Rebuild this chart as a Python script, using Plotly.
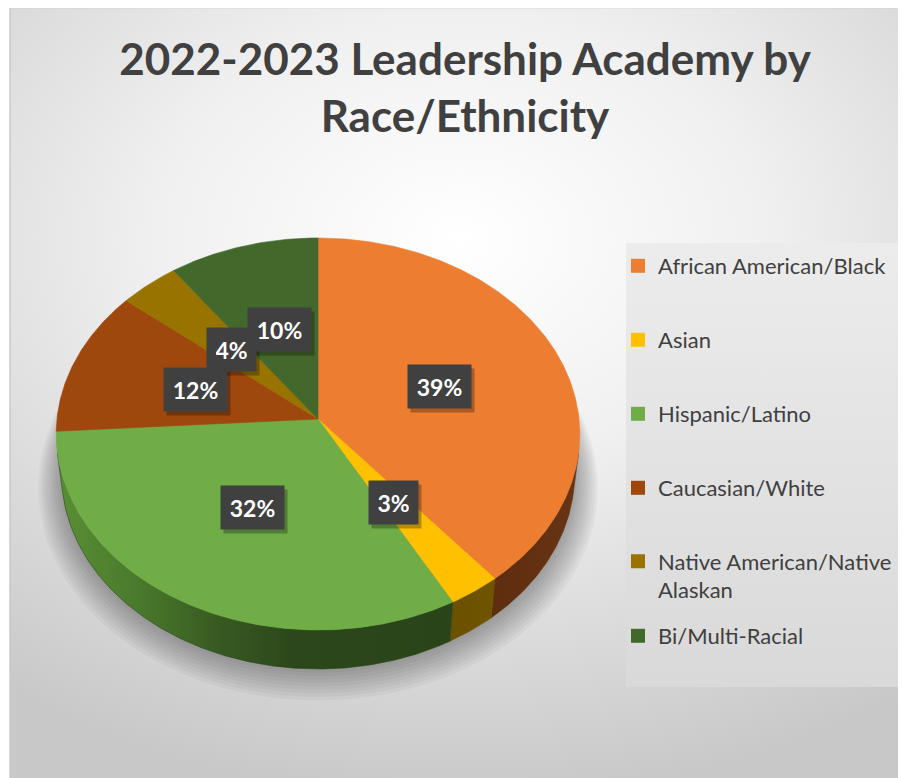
import numpy as np
import plotly.graph_objects as go

# ---------------- data ----------------
categories = ["African American/Black", "Asian", "Hispanic/Latino",
              "Caucasian/White", "Native American/Native Alaskan", "Bi/Multi-Racial"]
legend_labels = ["African American/Black", "Asian", "Hispanic/Latino",
                 "Caucasian/White", "Native American/Native<br>Alaskan", "Bi/Multi-Racial"]
percent_values = [39, 3, 32, 12, 4, 10]
title_text = "2022-2023 Leadership Academy by<br>Race/Ethnicity"

# ---------------- style ----------------
top_colors = ["#ED7D31", "#FFC000", "#70AD47", "#9E480E", "#997300", "#43682B"]
side_scales = [
    [[0, "#5e2d0f"], [1, "#683413"]],
    [[0, "#6a5000"], [1, "#705500"]],
    [[0, "#5a8f35"], [0.2, "#4a7a2c"], [0.4, "#385b21"], [0.6, "#2c471b"], [1, "#2a441a"]],
    [[0, "#6a300a"], [1, "#5a2808"]],
    [[0, "#6a5000"], [1, "#5e4600"]],
    [[0, "#30491e"], [1, "#2a411a"]],
]
OX, OY = 8, 8                 # page body margin
W, H_PX = 898, 770            # figure size
FONT = "Lato"
TXT = "#404040"


def px_x(p):
    return (p - OX) / W


def px_y(p):
    return 1 - (p - OY) / H_PX


# 3-D perspective pie geometry (screen pixel space of the axes)
CX, CY = 318.0, 419.0        # apex of the pie
DIST = 8.70                  # camera distance (in radii)
COS_T, SIN_T = 0.6654, 0.7465
FOC = 2271.0
THICK = 0.2366


def proj(theta_deg, r=1.0, h=0.0):
    t = np.radians(theta_deg)
    X = r * np.sin(t)
    Yp = r * np.cos(t)
    depth = DIST + Yp * COS_T + h * SIN_T
    v = Yp * SIN_T - h * COS_T
    return CX + FOC * X / depth, CY - FOC * v / depth


vals = np.array(percent_values, dtype=float)
cum = np.concatenate([[0], np.cumsum(vals)]) / vals.sum() * 360.0
th_vis = np.degrees(np.arccos(-1.0 / (COS_T * DIST)))
vis_lo, vis_hi = th_vis, 360.0 - th_vis

fig = go.Figure()

# background with radial gradient
fig.add_trace(go.Scatter(
    x=[-300, 1220, 1220, -300, -300], y=[-320, -320, 800, 800, -320],
    fill="toself", mode="none", showlegend=False, hoverinfo="skip",
    fillgradient=dict(type="radial",
                      colorscale=[[0, "#ffffff"], [0.4, "#f0f0f0"], [0.7, "#dcdcdc"], [1, "#c8c8c8"]]),
))

# legend panel
fig.add_trace(go.Scatter(
    x=[626, 906, 906, 626, 626], y=[243, 243, 687, 687, 243],
    fill="toself", mode="none", showlegend=False, hoverinfo="skip",
    fillgradient=dict(type="vertical", start=243, stop=687,
                      colorscale=[[0, "#ececec"], [1, "#d9d9d9"]]),
))

# soft shadow beneath the pie
full = np.linspace(0, 360, 241)
for k in range(1, 10):
    sx, sy = proj(full, r=1.0 + 0.010 * k, h=THICK)
    fig.add_trace(go.Scatter(
        x=sx, y=sy + 1.2 * k, fill="toself", mode="none",
        fillcolor="rgba(0,0,0,0.036)", showlegend=False, hoverinfo="skip"))

# outer wall of each slice
for i in range(len(vals)):
    a, b = max(cum[i], vis_lo), min(cum[i + 1], vis_hi)
    if b <= a:
        continue
    th = np.linspace(a, b, max(int((b - a) * 2), 3))
    tx, ty = proj(th)
    bx, by = proj(th[::-1], h=THICK)
    fig.add_trace(go.Scatter(
        x=np.concatenate([tx, bx, tx[:1]]), y=np.concatenate([ty, by, ty[:1]]),
        fill="toself", mode="lines", line=dict(width=0.6, color=side_scales[i][-1][1]),
        fillgradient=dict(type="horizontal", colorscale=side_scales[i]),
        showlegend=False, hoverinfo="skip"))

# top faces
for i in range(len(vals)):
    th = np.linspace(cum[i], cum[i + 1], max(int((cum[i + 1] - cum[i]) * 2), 3))
    tx, ty = proj(th)
    fig.add_trace(go.Scatter(
        x=np.concatenate([[CX], tx, [CX]]), y=np.concatenate([[CY], ty, [CY]]),
        fill="toself", mode="lines", line=dict(width=0.6, color=top_colors[i]),
        fillcolor=top_colors[i], name=categories[i], showlegend=False,
        hovertemplate=categories[i] + ": %{text}<extra></extra>",
        text=[f"{percent_values[i]}%"] * (len(tx) + 2)))

# legend entries (one legend per item to mimic Excel's even spacing)
legend_y_px = [266, 340, 414, 488, 576, 636]
layout_legends = {}
for i in range(len(vals)):
    key = "legend" if i == 0 else f"legend{i + 1}"
    fig.add_trace(go.Scatter(
        x=[None], y=[None], mode="markers", name=legend_labels[i],
        marker=dict(symbol="square", size=14, color=top_colors[i]),
        legend=key, showlegend=True))
    layout_legends[key] = dict(
        x=px_x(618), xanchor="left", y=px_y(legend_y_px[i]), yanchor="middle",
        bgcolor="rgba(0,0,0,0)", valign="top",
        font=dict(family=FONT, size=22, color=TXT))

# data labels (dark boxes with a soft drop shadow)
annotations = []
mid = (cum[:-1] + cum[1:]) / 2
lx, ly = proj(mid, r=0.5)
for i in range(len(vals)):
    box_w = 14 * len(str(percent_values[i])) + 17
    annotations.append(dict(x=lx[i], y=ly[i], xref="x", yref="y", showarrow=False,
                            width=box_w, height=25, borderpad=9, text="\u2002",
                            bgcolor="rgba(0,0,0,0.28)", xshift=3, yshift=-4,
                            font=dict(family=FONT, size=23, color="rgba(0,0,0,0)")))
for i in range(len(vals)):
    label = f"{percent_values[i]}%"
    box_w = 14 * len(str(percent_values[i])) + 17
    annotations.append(dict(x=lx[i], y=ly[i], xref="x", yref="y", showarrow=False,
                            width=box_w, height=25, borderpad=9, text=label,
                            bgcolor="#404040",
                            font=dict(family=FONT, size=23, color="white", weight="bold")))

fig.update_layout(
    width=W, height=H_PX,
    margin=dict(l=0, r=0, t=0, b=0),
    paper_bgcolor="white", plot_bgcolor="white",
    xaxis=dict(range=[OX, OX + W], visible=False, fixedrange=True),
    yaxis=dict(range=[OY + H_PX, OY], visible=False, fixedrange=True),
    title=dict(text=title_text, x=px_x(465), xanchor="center", y=px_y(75), yanchor="top",
               font=dict(family=FONT, size=44, color=TXT, weight="bold")),
    annotations=annotations,
    shapes=[
        dict(type="rect", xref="x", yref="y", x0=0, x1=10, y0=0, y1=790,
             fillcolor="white", line=dict(width=0), layer="above"),
        dict(type="rect", xref="x", yref="y", x0=0, x1=920, y0=0, y1=7.5,
             fillcolor="white", line=dict(width=0), layer="above"),
        dict(type="line", xref="x", yref="y", x0=10, x1=920, y0=7.5, y1=7.5,
             line=dict(color="#c8c8c8", width=1.5), layer="above"),
        dict(type="line", xref="x", yref="y", x0=10, x1=10, y0=7.5, y1=790,
             line=dict(color="#c8c8c8", width=1.5), layer="above"),
    ],
    **layout_legends,
)

fig.write_html("out.html")
